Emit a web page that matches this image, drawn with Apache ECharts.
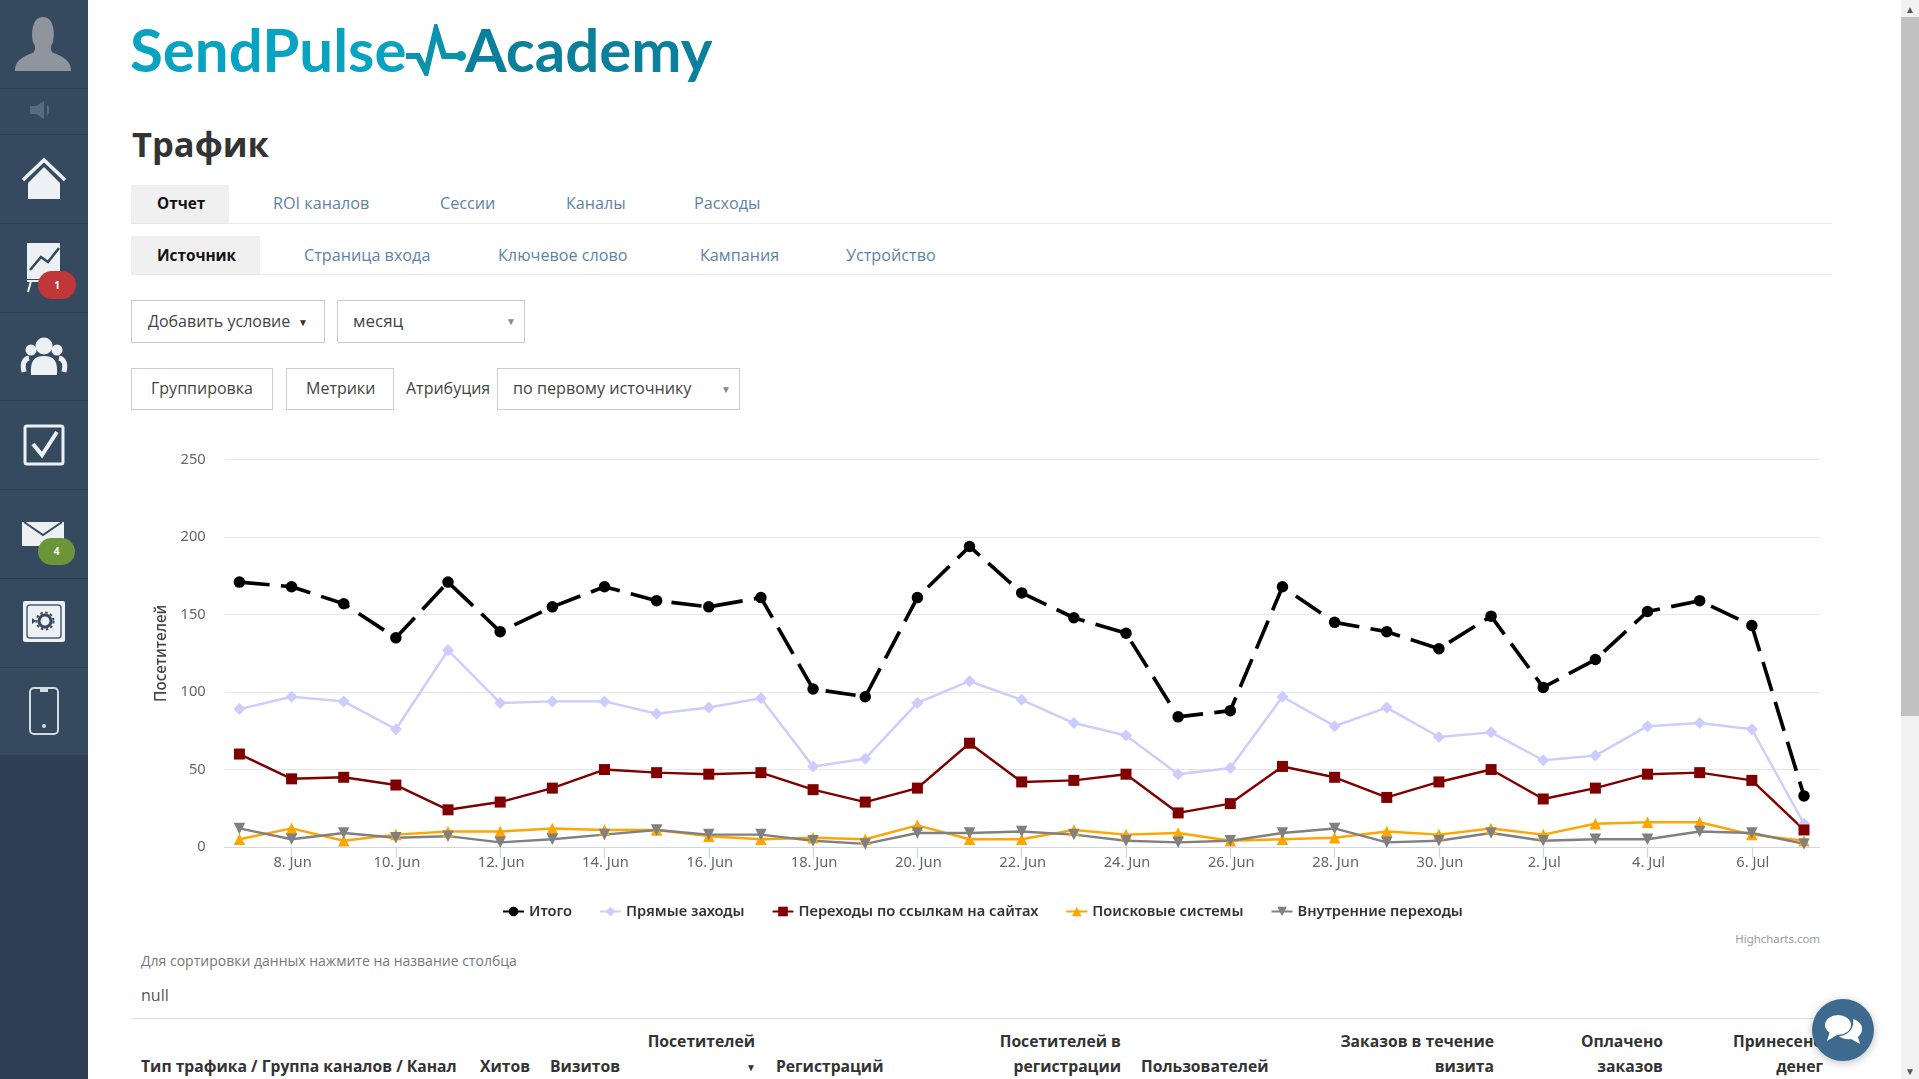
<!DOCTYPE html>
<html lang="ru"><head><meta charset="utf-8"><title>Трафик</title>
<script src="https://cdn.jsdelivr.net/npm/echarts@6/dist/echarts.min.js"></script>
<style>
html,body{margin:0;padding:0;width:1919px;height:1079px;overflow:hidden;background:#fff;font-family:"Open Sans","Noto Sans",sans-serif;color:#333}
.a{position:absolute;white-space:nowrap;line-height:1}
.side{position:absolute;left:0;top:0;width:88px;height:1079px;background:#2e3f54}
.sc{position:absolute;left:0;width:88px;background:#35495f;border-bottom:1px solid #2b3c50;box-sizing:border-box}
.tabbg{position:absolute;background:#f0f0f0}
.rule{position:absolute;height:1px;background:#eaeaea}
.tab{font-size:16.2px;color:#5d84a8;transform:translateY(-50%)}
.act{font-size:15.3px;font-weight:700;color:#111;transform:translateY(-50%)}
.box{position:absolute;border:1px solid #ccc;box-sizing:border-box;background:#fff}
.ctl{font-size:16px;color:#444;transform:translateY(-50%)}
.arr{font-size:10px;color:#888;transform:translateY(-50%)}
.th{font-size:15.7px;font-weight:700;color:#333;transform:translateY(-50%)}
.r{transform:translate(-100%,-50%)}
.logo{font-family:Lato,"Open Sans",sans-serif;font-size:60px;font-weight:700}
svg{position:absolute}
#chart{position:absolute;left:131px;top:440px;width:1700px;height:490px}
</style></head><body>
<div class="side">
<div class="sc" style="top:0;height:89px"></div><div class="sc" style="top:89px;height:46px"></div>
<div class="sc" style="top:135px;height:89px"></div><div class="sc" style="top:224px;height:89px"></div>
<div class="sc" style="top:313px;height:88px"></div><div class="sc" style="top:401px;height:89px"></div>
<div class="sc" style="top:490px;height:89px"></div><div class="sc" style="top:579px;height:89px"></div>
<div class="sc" style="top:668px;height:88px"></div>
<svg style="left:0;top:0" width="88" height="760" viewBox="0 0 88 760">
<path d="M15 71c0-13 12-15 19-19 2-4 1-6-1-10-2-9-1-25 10-25s12 16 10 25c-2 4-3 6-1 10 7 4 19 6 19 19z" fill="#8e959d"/>
<path d="M30 106h6l8-5v18l-8-5h-6zM47 104c3 3 3 9 0 12z" fill="#566a80"/>
<path d="M23 180l21-20 21 20" stroke="#eef1f3" stroke-width="3.5" fill="none"/><path d="M28 183l16-16 16 16v16H28z" fill="#eef1f3"/>
<path d="M27 243h33v36H27z" fill="#eef1f3"/><path d="M30 270l11-13 7 5 11-14" stroke="#35495f" stroke-width="2.5" fill="none"/>
<path d="M27 281h14M31 281l-3 11" stroke="#eef1f3" stroke-width="2" fill="none"/>
<circle cx="44" cy="346" r="8.5" fill="#eef1f3"/><path d="M31 375c-1-14 3-19 13-19s14 5 13 19z" fill="#eef1f3"/><circle cx="31" cy="350" r="5.5" fill="#eef1f3"/><circle cx="57" cy="350" r="5.5" fill="#eef1f3"/><path d="M24 372c-2-8 0-13 5-14M64 372c2-8 0-13-5-14" stroke="#eef1f3" stroke-width="5" fill="none"/>
<rect x="25" y="426" width="38" height="38" rx="2" fill="none" stroke="#eef1f3" stroke-width="3"/><path d="M33 444l9 11 15-23" stroke="#eef1f3" stroke-width="4" fill="none"/>
<path d="M22 522h42v24H22z" fill="#eef1f3"/><path d="M24 522l19 13 19-13" stroke="#35495f" stroke-width="2" fill="none"/>
<rect x="23" y="601" width="42" height="41" rx="2" fill="#eef1f3"/><rect x="27" y="605" width="34" height="33" rx="3" fill="none" stroke="#4a5d72" stroke-width="1.5"/><circle cx="45" cy="621" r="6" fill="none" stroke="#35495f" stroke-width="3"/><circle cx="45" cy="621" r="8.5" fill="none" stroke="#35495f" stroke-width="2" stroke-dasharray="2.5 2.5"/><path d="M32 618l4 3-4 3z" fill="#35495f"/>
<rect x="30" y="688" width="28" height="46" rx="4" fill="none" stroke="#d5dade" stroke-width="2"/><path d="M40 689h8v3h-8z" fill="#d5dade"/><circle cx="44" cy="726" r="2" fill="#d5dade"/>
</svg>
<div class="a" style="left:38px;top:271px;width:38px;height:28px;border-radius:14px;background:#c0373a;color:#fff;font:700 10px/28px 'Open Sans';text-align:center;left:38px">1</div>
<div class="a" style="left:38px;top:538px;width:37px;height:27px;border-radius:14px;background:#6b9638;color:#fff;font:700 10px/27px 'Open Sans';text-align:center">4</div>
</div>

<div class="a logo" style="left:130px;top:19px;color:#07a3c0">SendPulse</div>
<svg style="left:404px;top:24px" width="64" height="52" viewBox="0 0 64 52"><path d="M2 32h12l8 16 10-42 8 26h14" stroke="#0a93ad" stroke-width="6" fill="none"/><circle cx="57" cy="32" r="5" fill="#0a93ad"/></svg>
<div class="a logo" style="left:465px;top:19px;color:#0b7f9b">Academy</div>

<div class="a" style="left:132px;top:127px;font-size:34.5px;font-weight:700;color:#333">Трафик</div>

<div class="tabbg" style="left:131px;top:185px;width:98px;height:38px"></div>
<div class="rule" style="left:131px;top:223px;width:1701px"></div>
<div class="a act" style="left:157px;top:204px">Отчет</div>
<div class="a tab" style="left:273px;top:203px">ROI каналов</div>
<div class="a tab" style="left:440px;top:203px">Сессии</div>
<div class="a tab" style="left:566px;top:203px">Каналы</div>
<div class="a tab" style="left:694px;top:203px">Расходы</div>

<div class="tabbg" style="left:131px;top:236px;width:129px;height:38px"></div>
<div class="rule" style="left:131px;top:274px;width:1701px"></div>
<div class="a act" style="left:157px;top:256px">Источник</div>
<div class="a tab" style="left:304px;top:255px">Страница входа</div>
<div class="a tab" style="left:498px;top:255px">Ключевое слово</div>
<div class="a tab" style="left:700px;top:255px">Кампания</div>
<div class="a tab" style="left:846px;top:255px">Устройство</div>

<div class="box" style="left:131px;top:300px;width:194px;height:43px"></div>
<div class="a ctl" style="left:148px;top:321px">Добавить условие</div>
<div class="a arr" style="left:298px;top:322px;color:#333">▼</div>
<div class="box" style="left:337px;top:300px;width:188px;height:43px"></div>
<div class="a ctl" style="left:353px;top:320px;font-size:17px">месяц</div>
<div class="a arr" style="left:506px;top:321px">▼</div>
<div class="box" style="left:131px;top:368px;width:142px;height:42px"></div>
<div class="a ctl" style="left:151px;top:388px">Группировка</div>
<div class="box" style="left:286px;top:368px;width:108px;height:42px"></div>
<div class="a ctl" style="left:306px;top:388px">Метрики</div>
<div class="a ctl" style="left:406px;top:388px">Атрибуция</div>
<div class="box" style="left:497px;top:368px;width:243px;height:42px"></div>
<div class="a ctl" style="left:513px;top:388px;font-size:16.2px">по первому источнику</div>
<div class="a arr" style="left:721px;top:389px">▼</div>

<div id="chart"></div>
<div class="a" style="left:1820px;top:938px;font:11.4px 'Noto Sans';color:#999;transform:translate(-100%,-50%)">Highcharts.com</div>

<div class="a" style="left:141px;top:961px;font-size:14px;color:#777;transform:translateY(-50%)">Для сортировки данных нажмите на название столбца</div>
<div class="a" style="left:141px;top:995px;font-size:16px;color:#555;transform:translateY(-50%)">null</div>
<div class="rule" style="left:131px;top:1018px;width:1701px;background:#ddd"></div>

<div class="a th" style="left:141px;top:1067px">Тип трафика / Группа каналов / Канал</div>
<div class="a th" style="left:480px;top:1067px">Хитов</div>
<div class="a th" style="left:550px;top:1067px">Визитов</div>
<div class="a th r" style="left:755px;top:1042px">Посетителей</div>
<div class="a arr" style="left:746px;top:1067px;color:#333">▼</div>
<div class="a th" style="left:776px;top:1067px">Регистраций</div>
<div class="a th r" style="left:1121px;top:1042px">Посетителей в</div>
<div class="a th r" style="left:1121px;top:1067px">регистрации</div>
<div class="a th" style="left:1141px;top:1067px">Пользователей</div>
<div class="a th r" style="left:1494px;top:1042px">Заказов в течение</div>
<div class="a th r" style="left:1494px;top:1067px">визита</div>
<div class="a th r" style="left:1663px;top:1042px">Оплачено</div>
<div class="a th r" style="left:1663px;top:1067px">заказов</div>
<div class="a th r" style="left:1823px;top:1042px">Принесено</div>
<div class="a th r" style="left:1823px;top:1067px">денег</div>

<div style="position:absolute;left:1812px;top:999px;width:62px;height:62px;border-radius:50%;background:#3d6a8e;box-shadow:0 2px 8px rgba(0,0,0,.25)"></div>
<svg style="left:1812px;top:999px" width="62" height="62" viewBox="0 0 62 62"><ellipse cx="26" cy="26" rx="13" ry="10" fill="#fff"/><path d="M18 32l-3 10 10-6z" fill="#fff"/><path d="M41 20c6 2 9 5 9 10 0 4-2 6-4 8l2 7-9-5c-5 1-10-1-12-3 8 0 16-7 14-17z" fill="#fff"/></svg>

<div style="position:absolute;left:1901px;top:0;width:18px;height:1079px;background:#f1f1f1"></div>
<div style="position:absolute;left:1901px;top:17px;width:18px;height:699px;background:#c1c1c1"></div>
<div class="a" style="left:1905px;top:4px;font-size:10px;color:#555">▲</div>
<div class="a" style="left:1905px;top:1066px;font-size:10px;color:#555">▼</div>

<script>
const dateLabels = ['7. Jun','8. Jun','9. Jun','10. Jun','11. Jun','12. Jun','13. Jun','14. Jun','15. Jun','16. Jun','17. Jun','18. Jun','19. Jun','20. Jun','21. Jun','22. Jun','23. Jun','24. Jun','25. Jun','26. Jun','27. Jun','28. Jun','29. Jun','30. Jun','1. Jul','2. Jul','3. Jul','4. Jul','5. Jul','6. Jul','7. Jul'];
const tickIndexes = [1,3,5,7,9,11,13,15,17,19,21,23,25,27,29];
const yTicks = {min:0,max:250,interval:50};
const yTitle = 'Посетителей';
const total    = [171,168,157,135,171,139,155,168,159,155,161,102,97,161,194,164,148,138,84,88,168,145,139,128,149,103,121,152,159,143,33];
const direct   = [89,97,94,76,127,93,94,94,86,90,96,52,57,93,107,95,80,72,47,51,97,78,90,71,74,56,59,78,80,76,15];
const referral = [60,44,45,40,24,29,38,50,48,47,48,37,29,38,67,42,43,47,22,28,52,45,32,42,50,31,38,47,48,43,11];
const search   = [5,12,4,8,10,10,12,11,11,7,5,6,5,14,5,5,11,8,9,4,5,6,10,8,12,8,15,16,16,8,4];
const internal = [12,5,9,6,7,3,5,8,11,8,8,4,2,9,9,10,8,4,3,4,9,12,3,4,9,4,5,5,10,9,2];

const pts = a => a.map((v,i)=>[i,v]);
const mk = (name,data,color,symbol,size,width,extra) => Object.assign({
  name, type:'line', data:pts(data), symbol, symbolSize:size, showSymbol:true, showAllSymbols:true,
  lineStyle:{color,width}, itemStyle:{color,borderWidth:0}, emphasis:{disabled:true}, z:2
},extra||{});
const font = '"Noto Sans",sans-serif';
const chart = echarts.init(document.getElementById('chart'),null,{renderer:'canvas'});
chart.setOption({
  animation:false,
  backgroundColor:'transparent',
  grid:{left:93.7,top:19.7,width:1595.3,height:387.3,containLabel:false},
  legend:{left:366,top:459,itemWidth:21,itemHeight:12,itemGap:27,
    textStyle:{fontFamily:font,fontSize:14.7,fontWeight:600,color:'#333'},
    data:['Итого','Прямые заходы','Переходы по ссылкам на сайтах','Поисковые системы','Внутренние переходы']},
  xAxis:{type:'value',min:-0.282,max:30.307,
    axisLine:{onZero:false,lineStyle:{color:'#ccd6eb',width:1.2}},
    axisTick:{customValues:tickIndexes,length:11,lineStyle:{color:'#ccd6eb',width:1.2}},
    axisLabel:{customValues:tickIndexes,formatter:v=>dateLabels[v],fontFamily:font,fontSize:14.7,color:'#666',margin:8,padding:[0,0,0,2]},
    splitLine:{show:false}},
  yAxis:{type:'value',min:yTicks.min,max:yTicks.max,interval:yTicks.interval,name:yTitle,nameLocation:'middle',nameGap:52,
    nameTextStyle:{fontFamily:font,fontSize:15.4,fontWeight:500,color:'#444'},
    axisLine:{show:false},axisTick:{show:false},
    axisLabel:{fontFamily:font,fontSize:14.7,color:'#666',margin:19},
    splitLine:{lineStyle:{color:'#e6e6e6',width:1.2}}},
  series:[
    mk('Итого',total,'#000000','circle',11.5,3.67,{lineStyle:{color:'#000',width:3.67,type:[30.3,11.4],cap:'butt'}}),
    mk('Прямые заходы',direct,'#ccccff','diamond',12,2.45),
    mk('Переходы по ссылкам на сайтах',referral,'#800000','rect',11,2.45),
    mk('Поисковые системы',search,'#ffa500','triangle',11.5,2.45),
    mk('Внутренние переходы',internal,'#808080','triangle',11.5,2.45,{symbolRotate:180})
  ]
});
</script>
</body></html>
